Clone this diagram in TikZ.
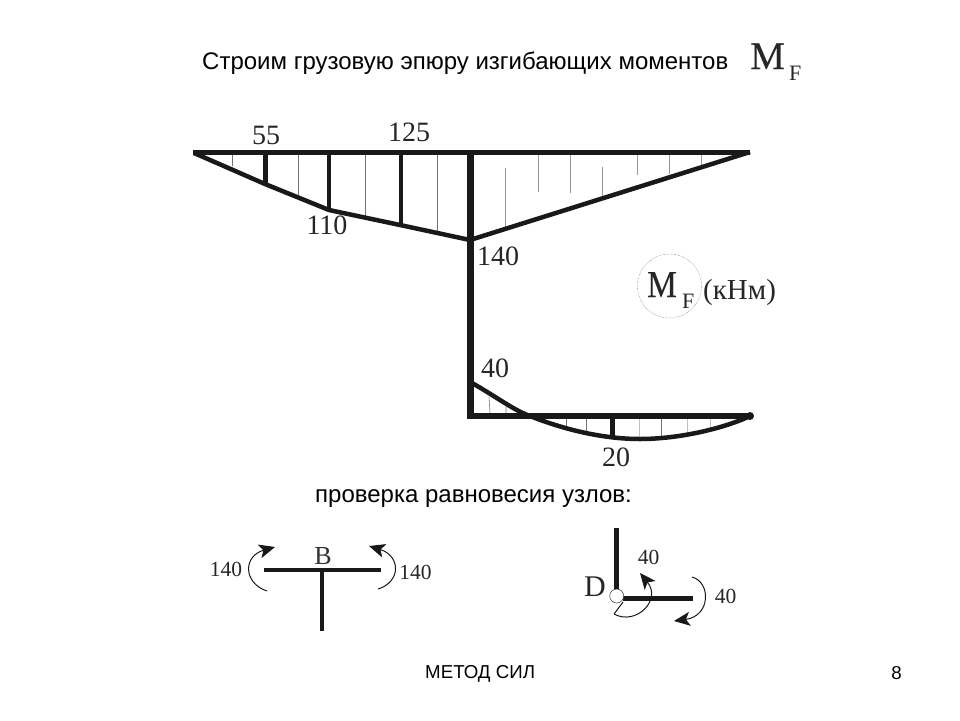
\documentclass[tikz,border=0pt]{standalone}
\usepackage{fontspec}
\setmainfont{Liberation Serif}
\newfontfamily\arialf{Liberation Sans}
\newfontfamily\heavyf[FakeBold=0.3]{Liberation Serif}
\usetikzlibrary{arrows.meta}
\tikzset{
  thickln/.style={line width=4.5pt,black!90},
  medln/.style={line width=4pt,black!90},
  hatch/.style={line width=0.6pt,black!55},
  slide/.style={font=\arialf\fontsize{24}{28}\selectfont,inner sep=0pt,anchor=base west},
  num/.style={font=\fontsize{28}{30}\selectfont,inner sep=0pt,anchor=base,black!85},
  nums/.style={font=\fontsize{21.5}{24}\selectfont,inner sep=0pt,anchor=base,black!85},
  moment/.style={line width=1pt,black!90,-{Stealth[length=16pt,width=14pt,inset=4pt]}},
}
\begin{document}
\begin{tikzpicture}[x=1pt,y=-1pt]
\useasboundingbox[fill=white] (0,0) rectangle (960,720);
\node[slide] (title) at (202,69) {Строим грузовую эпюру изгибающих моментов};
\node[font=\heavyf\fontsize{39}{42}\selectfont,inner sep=0pt,anchor=base west,black!85] (mt) at (750,69) {M};
\node[font=\fontsize{22}{24}\selectfont,inner sep=0pt,anchor=base west,black!85] (ft) at (789,80) {F};
% hatching
\draw[hatch] (232,153)--(232,166) (298,153)--(298,195) (365,153)--(365,216) (437,153)--(437,231);
\draw[hatch,black!40] (505,168)--(505,227) (538,153)--(538,192) (570,153)--(570,193) (602,167)--(602,196) (637,153)--(637,175) (669,153)--(669,174) (701,153)--(701,165);
\draw[hatch] (489,397)--(490,413) (506,407)--(506,413);
\draw[hatch] (566,418)--(566,428) (586,418)--(586,431) (661,418)--(661,436);
\draw[hatch,black!25] (639,418)--(639,438) (687,418)--(687,433) (710,418)--(710,428);
% ordinates
\draw[line width=5pt,black!90] (265,153)--(265,184);
\draw[line width=4.7pt,black!90] (329,153)--(329,210);
\draw[medln] (401,153)--(401,225);
\draw[line width=5pt,black!90] (612,416)--(612,438);
% top beam and diagram
\draw[line width=5pt,black!90] (193,152.5)--(750,152.5);
\draw[thickln] (194,153)--(265,184)--(329,210)--(400,225)--(470,240)--(750,152);
\draw[line width=6.5pt,black!90] (470.5,153)--(470.5,419);
\draw[line width=6pt,black!90] (467,416)--(750,416);
\draw[thickln] (472,383) .. controls (495,396) and (515,411) .. (530,416)
  .. controls (560,428) and (600,439) .. (640,439)
  .. controls (680,439) and (725,428) .. (750,416);
\fill[black!90] (750,416) circle (4);
% values
\node[num] (v55) at (266,144) {55};
\node[num] (v125) at (409,141) {125};
\node[num] (v110) at (327,234) {110};
\node[num] (v140) at (498,265) {140};
\node[num] (v40) at (495,377) {40};
\node[num] (v20) at (616,466) {20};
% legend
\draw[line width=0.4pt,black!70,densely dotted] (669.5,286) circle (32);
\node[font=\heavyf\fontsize{38}{40}\selectfont,inner sep=0pt,anchor=base west,black!85] (lm) at (647,297) {\scalebox{0.88}[1]{M}};
\node[font=\fontsize{22}{24}\selectfont,inner sep=0pt,anchor=base west,black!85] (lf) at (682,308) {F};
\node[font=\fontsize{29}{31}\selectfont,inner sep=0pt,anchor=base west,black!85] (lu) at (703,299) {(кНм)};
\node[slide] (check) at (315,502) {проверка равновесия узлов:};
% node B
\draw[line width=4.5pt,black!90] (264,570)--(381,570);
\draw[line width=4.5pt,black!90] (322,571)--(322,631);
\node[font=\fontsize{26}{28}\selectfont,inner sep=0pt,anchor=base,black!80] (b) at (323,564) {В};
\node[nums] (bl) at (226,576) {140};
\node[nums] (br) at (415.5,579) {140};
\draw[moment] (267,591) .. controls (243,583) and (243,556) .. (275,547);
\draw[moment] (378,589) .. controls (401,582) and (401,556) .. (369,546);
% node D
\draw[line width=4.5pt,black!90] (616.5,528)--(616.5,591);
\draw[line width=4.5pt,black!90] (623,598.5)--(693,598.5);
\draw[line width=0.5pt,black!80,fill=white] (616.7,596) circle (7);
\node[font=\fontsize{30}{32}\selectfont,inner sep=0pt,anchor=base,black!85] (d) at (595,596) {D};
\node[nums] (dt) at (648.5,564) {40};
\node[nums] (dr) at (725.5,603) {40};
\draw[moment] (614,614) .. controls (636,626) and (662,600) .. (640,573);
\draw[line width=1pt,black!90] (614,614)--(623,602);
\draw[moment] (692,577) .. controls (711,582) and (711,616) .. (674,621);
% footer
\node[font=\arialf\fontsize{18.7}{22}\selectfont,inner sep=0pt,anchor=base west] (foot) at (425,678) {МЕТОД СИЛ};
\node[font=\arialf\fontsize{18.7}{22}\selectfont,inner sep=0pt,anchor=base east] (pg) at (902,679) {8};
\end{tikzpicture}
\end{document}
